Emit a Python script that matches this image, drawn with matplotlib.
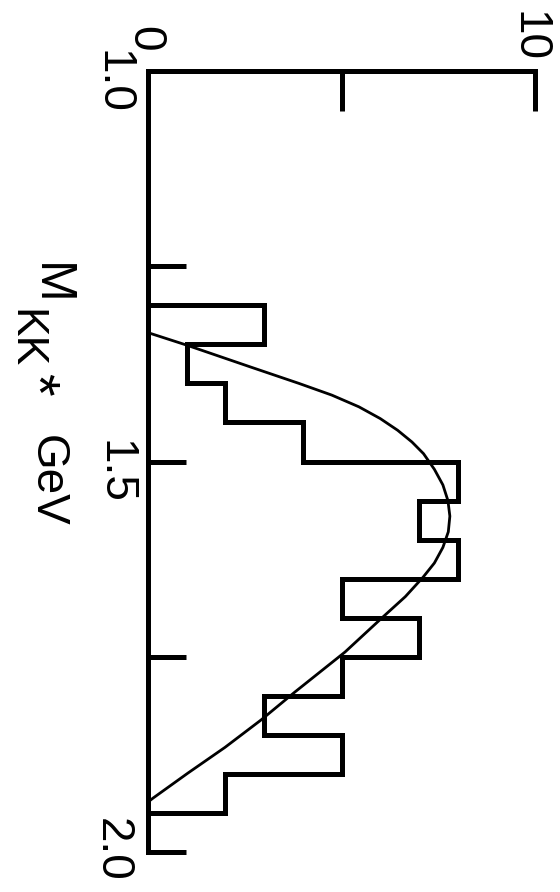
import matplotlib
matplotlib.use("Agg")
import matplotlib.pyplot as plt

plt.rcParams['font.family'] = ['Liberation Sans', 'DejaVu Sans']

# ---- data ----
bin_edges = [1.30, 1.35, 1.40, 1.45, 1.50, 1.55, 1.60, 1.65, 1.70, 1.75,
             1.80, 1.85, 1.90, 1.95, 2.00]
bin_counts = [3, 1, 2, 4, 8, 7, 8, 5, 7, 5, 3, 5, 2, 0]

curve_mass = [1.335, 1.351, 1.379, 1.400, 1.415, 1.430, 1.445, 1.460, 1.475,
              1.490, 1.510, 1.530, 1.550, 1.570, 1.590, 1.610, 1.630, 1.648,
              1.673, 1.700, 1.744, 1.795, 1.831, 1.866, 1.899, 1.931, 1.936]
curve_count = [0.00, 1.00, 2.65, 3.90, 4.75, 5.45, 6.00, 6.45, 6.82,
               7.12, 7.40, 7.62, 7.75, 7.80, 7.76, 7.62, 7.40, 7.11,
               6.65, 6.05, 5.09, 3.80, 2.92, 1.99, 1.03, 0.13, 0.00]

mass_ticks = [1.25, 1.5, 1.75, 2.0]
mass_label_vals = [1.0, 1.5, 2.0]
mass_labels = ['1.0', '1.5', '2.0']
count_ticks = [5, 10]
count_label_vals = [0, 10]
count_labels = ['0', '10']

# ---- figure ----
W, H = 560, 892
fig = plt.figure(figsize=(W / 100, H / 100), dpi=100)
ax = fig.add_axes([148 / W, 1 - 852 / H, (535 - 148) / W, (852 - 71) / H])
ax.set_xlim(0, 10)
ax.set_ylim(2.0, 1.0)

for s in ('right', 'bottom'):
    ax.spines[s].set_visible(False)
for s in ('left', 'top'):
    ax.spines[s].set_linewidth(3.6)
    ax.spines[s].set_capstyle('projecting')

ax.xaxis.set_ticks_position('top')
ax.set_xticks(count_ticks)
ax.set_yticks(mass_ticks)
ax.tick_params(axis='x', direction='in', length=29, width=3.6,
               labeltop=False, labelbottom=False)
ax.tick_params(axis='y', direction='in', length=27, width=3.6,
               labelleft=False)

# histogram (horizontal orientation: mass on the vertical axis)
ax.stairs(bin_counts, bin_edges, orientation='horizontal', baseline=0,
          color='black', linewidth=3.6)
# smooth curve
ax.plot(curve_count, curve_mass, color='black', linewidth=2.0)

# rotated tick labels
mass_offsets = [(-47, -11), (-46, -10.5), (-48, 2)]
for v, lab, off in zip(mass_label_vals, mass_labels, mass_offsets):
    ax.annotate(lab, xy=(0, v), xycoords=('axes fraction', 'data'),
                xytext=off, textcoords='offset pixels', rotation=-90,
                rotation_mode='anchor', ha='center', va='baseline',
                fontsize=33, annotation_clip=False)
count_offsets = [(-16, 32), (-18, 34.5)]
for v, lab, off in zip(count_label_vals, count_labels, count_offsets):
    ax.annotate(lab, xy=(v, 1), xycoords=('data', 'axes fraction'),
                xytext=off, textcoords='offset pixels', rotation=-90,
                rotation_mode='anchor', ha='center', va='baseline',
                fontsize=33, annotation_clip=False)


def ftext(x, y, s, size):
    fig.text(x / W, 1 - y / H, s, rotation=-90, rotation_mode='anchor',
             ha='center', va='baseline', fontsize=size)


# axis title  M_KK*  GeV
ftext(37, 284, 'M', 36)
ftext(13, 339, 'KK', 32)
ftext(18, 384, '*', 42)
ftext(35, 481, 'GeV', 33)

fig.savefig('out.png', dpi=100, facecolor='white')
